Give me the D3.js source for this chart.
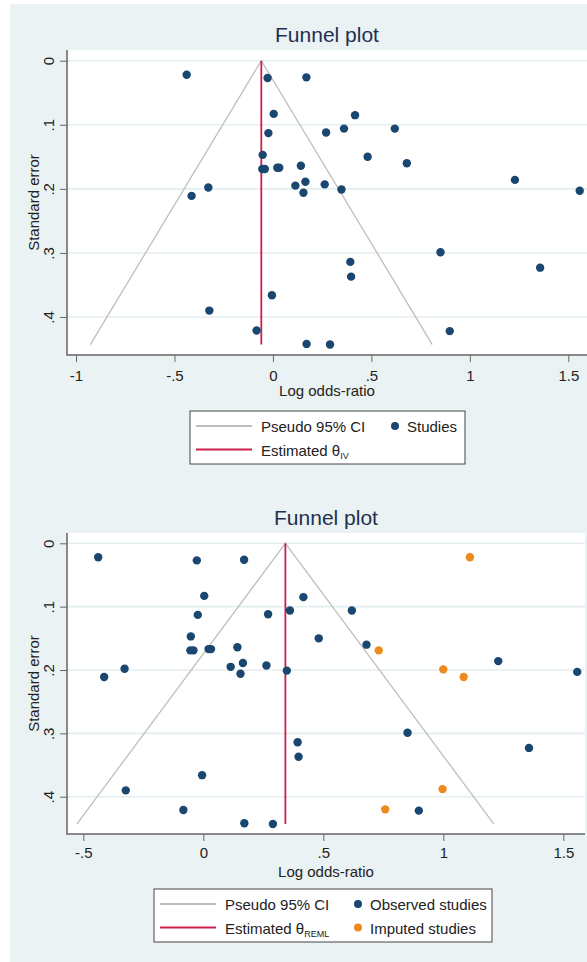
<!DOCTYPE html>
<meta charset="utf-8">
<svg width="587" height="962"></svg>
<script src="https://d3js.org/d3.v7.min.js"></script>

<style>
body { margin: 0; }
svg { display: block; font-family: "Liberation Sans", Arial, sans-serif; }
.tick text { font-size: 15px; fill: #222; }
.title { font-size: 21px; fill: #1f3050; }
.axis_title, .legend_text { font-size: 15px; fill: #222; }
</style>

<script>

// observed studies (log odds-ratio, standard error)
var logOR = [-0.438, -0.027, 0.170, 0.004, 0.417, -0.023, 0.270, 0.361, 0.619, -0.052,
             0.481, 0.680, -0.054, -0.041, 0.022, 0.032, 0.142, 0.114, 0.165, 0.155,
             0.263, 0.348, -0.413, -0.328, 1.229, 1.558, 0.393, 0.397, 0.851, 1.357,
             -0.323, -0.005, -0.083, 0.898, 0.171, 0.290];
var stdErr = [0.022, 0.027, 0.026, 0.083, 0.085, 0.113, 0.112, 0.106, 0.106, 0.147,
              0.150, 0.160, 0.169, 0.169, 0.167, 0.167, 0.164, 0.195, 0.189, 0.206,
              0.193, 0.201, 0.211, 0.198, 0.186, 0.203, 0.314, 0.337, 0.299, 0.323,
              0.390, 0.366, 0.421, 0.422, 0.442, 0.443];

// trim-and-fill imputed studies
var imputedLogOR = [1.111, 0.731, 1.000, 1.085, 0.997, 0.758];
var imputedSE = [0.022, 0.169, 0.199, 0.211, 0.388, 0.420];

var thetaIV = -0.059,
    thetaREML = 0.342;

var yTicks = [0, 0.1, 0.2, 0.3, 0.4],
    yTickLabels = ["0", ".1", ".2", ".3", ".4"];
var xTicksTop = [-1, -0.5, 0, 0.5, 1, 1.5],
    xTickLabelsTop = ["-1", "-.5", "0", ".5", "1", "1.5"];
var xTicksBottom = [-0.5, 0, 0.5, 1, 1.5],
    xTickLabelsBottom = ["-.5", "0", ".5", "1", "1.5"];

var svg = d3.select("svg");
var bg = "#eaf2f3", navy = "#1a476f", orange = "#ec8a1c", red = "#cc1f4a", ciGrey = "#bebebe";

svg.append("rect").attr("x", 10).attr("y", 4).attr("width", 577).attr("height", 958).attr("fill", bg);

var observed = logOR.map(function(v, i) { return {x: v, se: stdErr[i]}; });
var imputed = imputedLogOR.map(function(v, i) { return {x: v, se: imputedSE[i]}; });
var seMax = d3.max(stdErr);

function funnel(cfg) {
  var x = d3.scaleLinear().domain(cfg.xDomain).range(cfg.xRange),
      y = d3.scaleLinear().domain([0, 0.4]).range(cfg.yRange),
      box = cfg.box,
      g = svg.append("g");

  g.append("rect")
      .attr("x", box.left).attr("y", box.top)
      .attr("width", box.right - box.left).attr("height", box.bottom - box.top)
      .attr("fill", "#fff");

  g.selectAll(".grid")
    .data(yTicks)
    .enter().append("line")
      .attr("x1", box.left).attr("x2", box.right)
      .attr("y1", function(d) { return y(d); }).attr("y2", function(d) { return y(d); })
      .attr("stroke", "#e3eef0").attr("stroke-width", 1.6);

  // pseudo 95% CI
  var line = d3.line().x(function(d) { return x(d[0]); }).y(function(d) { return y(d[1]); });
  g.append("path")
      .datum([[cfg.theta - 1.96 * seMax, seMax], [cfg.theta, 0], [cfg.theta + 1.96 * seMax, seMax]])
      .attr("fill", "none").attr("stroke", ciGrey).attr("stroke-width", 1.3)
      .attr("d", line);

  g.append("path")
      .datum([[cfg.theta, 0], [cfg.theta, seMax]])
      .attr("fill", "none").attr("stroke", red).attr("stroke-width", 1.8)
      .attr("d", line);

  cfg.series.forEach(function(s) {
    g.selectAll(null)
      .data(s.data)
      .enter().append("circle")
        .attr("cx", function(d) { return x(d.x); })
        .attr("cy", function(d) { return y(d.se); })
        .attr("r", 4.2)
        .attr("fill", s.color);
  });

  // axes
  var ya = g.append("g")
      .attr("transform", "translate(" + box.left + ",0)")
      .call(d3.axisLeft(y).tickValues(yTicks).tickSize(7)
        .tickFormat(function(d, i) { return yTickLabels[i]; }));
  ya.select(".domain").remove();
  ya.selectAll(".tick line").attr("stroke", "#666");
  ya.selectAll(".tick text")
      .attr("x", 0).attr("y", -13).attr("dy", 0)
      .attr("transform", "rotate(-90)")
      .attr("text-anchor", "middle");

  var xa = g.append("g")
      .attr("transform", "translate(0," + box.bottom + ")")
      .call(d3.axisBottom(x).tickValues(cfg.xTicks).tickSize(7)
        .tickFormat(function(d, i) { return cfg.xLabels[i]; }));
  xa.select(".domain").remove();
  xa.selectAll(".tick line").attr("stroke", "#666");
  xa.selectAll(".tick text").attr("y", cfg.tickY).attr("dy", 0);

  g.append("path")
      .attr("d", "M" + box.left + "," + box.top + "V" + box.bottom + "H" + box.right)
      .attr("fill", "none").attr("stroke", "#666").attr("stroke-width", 1.5);

  g.append("text").attr("class", "title")
      .attr("x", cfg.titleX).attr("y", box.top - 8)
      .attr("text-anchor", "middle").text("Funnel plot");

  g.append("text").attr("class", "axis_title")
      .attr("x", cfg.titleX).attr("y", box.bottom + cfg.axisTitleY)
      .attr("text-anchor", "middle").text("Log odds-ratio");

  g.append("text").attr("class", "axis_title")
      .attr("transform", "translate(39," + (box.top + box.bottom) / 2 + ") rotate(-90)")
      .attr("text-anchor", "middle").text("Standard error");

  // legend
  var L = cfg.legend;
  g.append("rect")
      .attr("x", L.left).attr("y", L.top).attr("width", L.width).attr("height", 53)
      .attr("fill", "#fff").attr("stroke", "#444").attr("stroke-width", 1);

  var rows = [L.top + 21, L.top + 44.5];
  [[ciGrey, "Pseudo 95% CI", null], [red, "Estimated θ", cfg.sub]].forEach(function(item, i) {
    g.append("line")
        .attr("x1", L.left + 6).attr("x2", L.left + 62)
        .attr("y1", rows[i] - 6).attr("y2", rows[i] - 6)
        .attr("stroke", item[0]).attr("stroke-width", 1.8);
    var t = g.append("text").attr("class", "legend_text")
        .attr("x", L.left + 71).attr("y", rows[i]).text(item[1]);
    if (item[2]) t.append("tspan").attr("font-size", 9).attr("dy", 3).text(item[2]);
  });

  cfg.series.forEach(function(s, i) {
    g.append("circle")
        .attr("cx", L.markerX).attr("cy", rows[i] - 6).attr("r", 4)
        .attr("fill", s.color);
    g.append("text").attr("class", "legend_text")
        .attr("x", L.markerX + 12).attr("y", rows[i]).text(s.name);
  });
}

funnel({
  xDomain: [-1, 1.5], xRange: [76, 568.3], yRange: [60.7, 317],
  box: {left: 67, right: 592, top: 50, bottom: 355},
  theta: thetaIV, sub: "IV", tickY: 26, axisTitleY: 41,
  xTicks: xTicksTop, xLabels: xTickLabelsTop, titleX: 327,
  series: [{name: "Studies", data: observed, color: navy}],
  legend: {left: 190, top: 411, width: 275, markerX: 395}
});

funnel({
  xDomain: [-0.5, 1.5], xRange: [83.3, 563.3], yRange: [543.3, 796.7],
  box: {left: 67, right: 585, top: 533, bottom: 834},
  theta: thetaREML, sub: "REML", tickY: 24, axisTitleY: 43,
  xTicks: xTicksBottom, xLabels: xTickLabelsBottom, titleX: 326,
  series: [{name: "Observed studies", data: observed, color: navy},
           {name: "Imputed studies", data: imputed, color: orange}],
  legend: {left: 154, top: 889, width: 338, markerX: 358}
});

</script>
